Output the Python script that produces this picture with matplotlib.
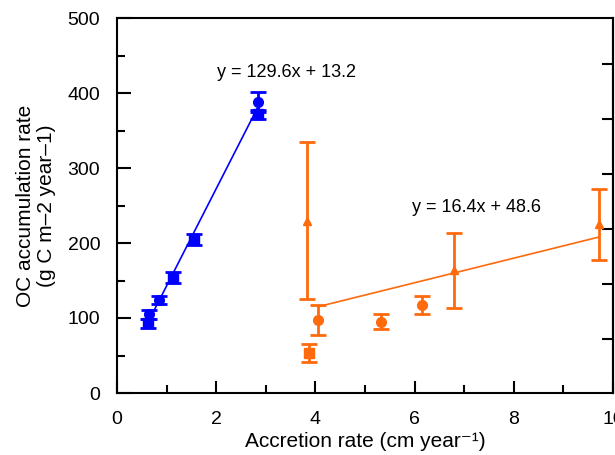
import matplotlib
matplotlib.use('Agg')
import matplotlib.pyplot as plt
import numpy as np
from matplotlib.ticker import MultipleLocator, FixedLocator

plt.rcParams['font.family'] = ['Liberation Sans', 'DejaVu Sans']

# blue group: x, y, error, marker
blue_x = [0.62, 0.64, 0.84, 1.13, 1.56, 2.84, 2.84]
blue_y = [93, 105, 124, 154, 205, 372, 388]
blue_err = [6, 6, 5, 7, 7, 6, 13]
blue_mk = ['s', 'o', 'o', 's', 's', 's', 'o']
blue_fit = (129.6, 13.2)
blue_fit_x = [0.62, 2.84]

# orange group
orange_x = [3.87, 3.84, 4.06, 5.32, 6.15, 6.79, 9.71]
orange_y = [54, 230, 97, 95, 118, 164, 225]
orange_err = [12, 105, 20, 10, 12, 50, 47]
orange_mk = ['s', '^', 'o', 'o', 'o', '^', '^']
orange_fit = (16.4, 48.6)
orange_fit_x = [4.06, 9.71]

right_ticks = [72, 145, 219, 292, 366, 439]

blue = '#0000ff'
orange = '#ff6a0d'

fig = plt.figure(figsize=(6.15, 4.55), dpi=100)
ax = fig.add_axes([117 / 615, 62 / 455, 496 / 615, 375 / 455])

def draw_group(xs, ys, errs, mks, color, fit, fit_x):
    fx = np.array(fit_x)
    ax.plot(fx, fit[0] * fx + fit[1], color=color, lw=1.2, zorder=2)
    for x, y, e, m in zip(xs, ys, errs, mks):
        ms = 7 if m == 'o' else (6.5 if m == 's' else 6)
        ax.errorbar(x, y, yerr=e, fmt=m, color=color, ms=ms, capsize=6,
                    capthick=2, elinewidth=2, zorder=3)

draw_group(blue_x, blue_y, blue_err, blue_mk, blue, blue_fit, blue_fit_x)
draw_group(orange_x, orange_y, orange_err, orange_mk, orange, orange_fit, orange_fit_x)

ax.text(3.42, 428, 'y = 129.6x + 13.2', fontsize=13, ha='center', va='center')
ax.text(7.24, 247, 'y = 16.4x + 48.6', fontsize=13, ha='center', va='center')

ax.set_xlim(0, 10)
ax.set_ylim(0, 500)
ax.xaxis.set_major_locator(MultipleLocator(2))
ax.xaxis.set_minor_locator(MultipleLocator(1))
ax.yaxis.set_major_locator(MultipleLocator(100))
ax.yaxis.set_minor_locator(MultipleLocator(50))
ax.tick_params(axis='both', which='major', direction='in', length=10, width=1.5,
               labelsize=14, top=False, right=False)
ax.tick_params(axis='both', which='minor', direction='in', length=5.5, width=1.5,
               top=False, right=False)
ax.tick_params(axis='x', which='major', length=9, pad=13)
ax.tick_params(axis='y', which='major', pad=12)

# right side ticks (no labels)
sec = ax.secondary_yaxis('right')
sec.yaxis.set_major_locator(FixedLocator(right_ticks))
sec.tick_params(direction='in', length=8, width=1.5, labelright=False)
sec.spines['right'].set_linewidth(1.5)

for s in ax.spines.values():
    s.set_linewidth(1.5)

ax.set_xlabel('Accretion rate (cm year⁻¹)', fontsize=15, labelpad=3)
ax.set_ylabel('OC accumulation rate\n(g C m–2 year–1)', fontsize=15, labelpad=8,
              linespacing=1.15)

fig.savefig('out.png', dpi=100)
